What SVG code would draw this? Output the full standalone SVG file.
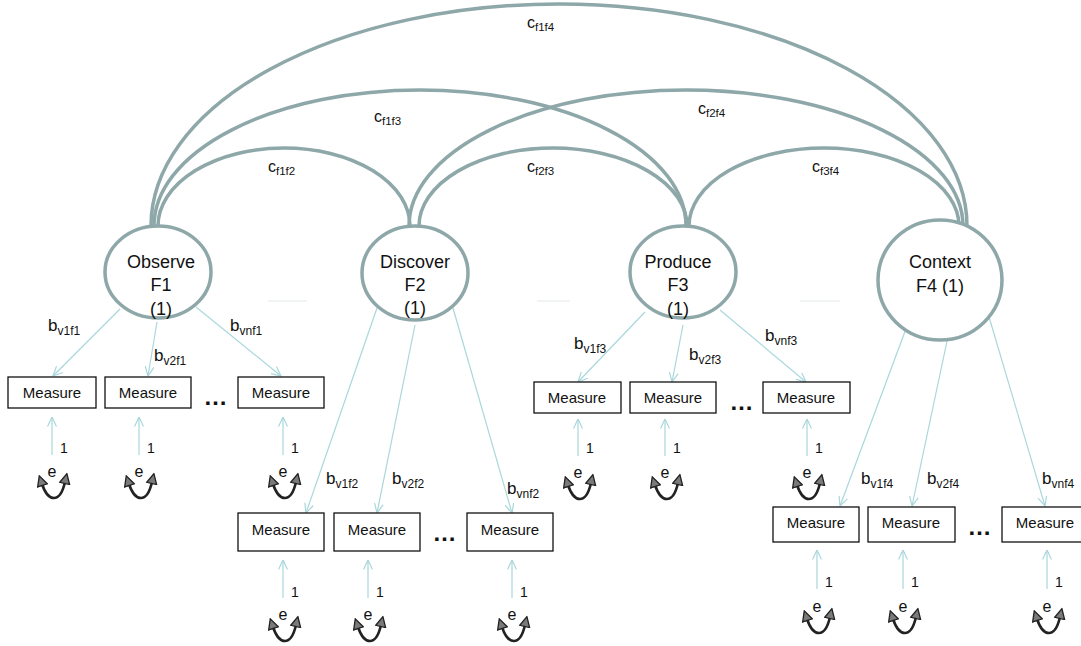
<svg xmlns="http://www.w3.org/2000/svg" width="1081" height="646" viewBox="0 0 1081 646">
<style>
text{font-family:"Liberation Sans",Arial,sans-serif;fill:#111}
.fac{fill:#fff;stroke:#8ea7a9;stroke-width:3.5}
.ft{font-size:18px;text-anchor:middle}
.box{fill:#fff;stroke:#111;stroke-width:1.3}
.mt{font-size:15px;text-anchor:middle}
.cov{fill:none;stroke:#8ea7a9;stroke-width:3.5}
.ld{fill:none;stroke:#a9d7dc;stroke-width:1.2;marker-end:url(#open)}
.bl{font-size:17px}
.bs{font-size:12px}
.cl{font-size:16px}
.cs{font-size:11.5px}
.one{font-size:14px}
.et{font-size:16px;text-anchor:middle}
.loop{fill:none;stroke:#222;stroke-width:2.6;marker-start:url(#tri);marker-end:url(#tri)}
.dots{font-size:24px;font-weight:bold;text-anchor:middle;letter-spacing:1px}
.faint{stroke:#edf1f1;stroke-width:1.5}
</style>
<defs>
<marker id="open" viewBox="0 0 10 10" refX="9.5" refY="5" markerWidth="10" markerHeight="10" markerUnits="userSpaceOnUse" orient="auto">
<path d="M0,0.5 L9.5,5 L0,9.5" fill="none" stroke="#a9d7dc" stroke-width="1.2"/>
</marker>
<marker id="tri" viewBox="0 0 10 10" refX="2" refY="5" markerWidth="12" markerHeight="12" markerUnits="userSpaceOnUse" orient="auto-start-reverse">
<path d="M0.8,0.8 L9.2,5 L0.8,9.2 z" fill="#7a7a7a" stroke="#222" stroke-width="1.1"/>
</marker>
</defs>
<rect width="1081" height="646" fill="#fff"/>
<g id="faint">
<line class="faint" x1="268" y1="301" x2="307" y2="301"/>
<line class="faint" x1="537" y1="301" x2="570" y2="301"/>
<line class="faint" x1="800" y1="301" x2="840" y2="301"/>
</g>
<g id="connectors">
<path class="cov" d="M151 226 A408 222 0 0 1 967 226"/>
<path class="cov" d="M154 226 A266 136 0 0 1 686 226"/>
<path class="cov" d="M409 226 A277 136 0 0 1 963 226"/>
<path class="cov" d="M158 226 A126 78 0 0 1 410 226"/>
<path class="cov" d="M419 226 A134 78 0 0 1 687 226"/>
<path class="cov" d="M689 226 A135 78 0 0 1 959 226"/>
<path class="ld" d="M120 309 L53 376"/>
<path class="ld" d="M157 322 L148 376"/>
<path class="ld" d="M196 307 L281 376"/>
<path class="ld" d="M377 308 L306 513"/>
<path class="ld" d="M415 325 L377 513"/>
<path class="ld" d="M453 308 L512 513"/>
<path class="ld" d="M645 312 L578 382"/>
<path class="ld" d="M683 325 L672 382"/>
<path class="ld" d="M720 310 L806 382"/>
<path class="ld" d="M913 310 L840 506"/>
<path class="ld" d="M950 327 L912 506"/>
<path class="ld" d="M987 310 L1045 506"/>
<path class="ld" d="M52 455 L52 417"/>
<path class="ld" d="M139 455 L139 417"/>
<path class="ld" d="M283 455 L283 417"/>
<path class="ld" d="M283 598 L283 560"/>
<path class="ld" d="M368 598 L368 560"/>
<path class="ld" d="M512 598 L512 560"/>
<path class="ld" d="M578 456 L578 419"/>
<path class="ld" d="M665 456 L665 419"/>
<path class="ld" d="M807 456 L807 419"/>
<path class="ld" d="M817 589 L817 550"/>
<path class="ld" d="M903 589 L903 550"/>
<path class="ld" d="M1047 589 L1047 550"/>
</g>
<g id="cov-labels">
<text class="cl" x="527" y="28">c<tspan class="cs" dy="3">f1f4</tspan></text>
<text class="cl" x="374" y="122">c<tspan class="cs" dy="3">f1f3</tspan></text>
<text class="cl" x="698" y="114">c<tspan class="cs" dy="3">f2f4</tspan></text>
<text class="cl" x="268" y="172">c<tspan class="cs" dy="3">f1f2</tspan></text>
<text class="cl" x="527" y="172">c<tspan class="cs" dy="3">f2f3</tspan></text>
<text class="cl" x="812" y="172">c<tspan class="cs" dy="3">f3f4</tspan></text>
</g>
<g id="load-labels">
<text class="bl" x="48" y="331">b<tspan class="bs" dy="4">v1f1</tspan></text>
<text class="bl" x="154" y="361">b<tspan class="bs" dy="4">v2f1</tspan></text>
<text class="bl" x="230" y="331">b<tspan class="bs" dy="4">vnf1</tspan></text>
<text class="bl" x="326" y="484">b<tspan class="bs" dy="4">v1f2</tspan></text>
<text class="bl" x="392" y="484">b<tspan class="bs" dy="4">v2f2</tspan></text>
<text class="bl" x="507" y="494">b<tspan class="bs" dy="4">vnf2</tspan></text>
<text class="bl" x="574" y="349">b<tspan class="bs" dy="4">v1f3</tspan></text>
<text class="bl" x="689" y="360">b<tspan class="bs" dy="4">v2f3</tspan></text>
<text class="bl" x="765" y="341">b<tspan class="bs" dy="4">vnf3</tspan></text>
<text class="bl" x="861" y="484">b<tspan class="bs" dy="4">v1f4</tspan></text>
<text class="bl" x="927" y="484">b<tspan class="bs" dy="4">v2f4</tspan></text>
<text class="bl" x="1042" y="484">b<tspan class="bs" dy="4">vnf4</tspan></text>
</g>
<g id="F1">
<ellipse class="fac" cx="158" cy="272" rx="53" ry="46"/>
<text class="ft" x="161" y="268">Observe</text>
<text class="ft" x="161" y="291">F1</text>
<text class="ft" x="161" y="315">(1)</text>
</g>
<g id="F2">
<ellipse class="fac" cx="415" cy="273" rx="53" ry="47"/>
<text class="ft" x="415" y="268">Discover</text>
<text class="ft" x="415" y="291">F2</text>
<text class="ft" x="415" y="314">(1)</text>
</g>
<g id="F3">
<ellipse class="fac" cx="683" cy="272" rx="53" ry="46"/>
<text class="ft" x="678" y="268">Produce</text>
<text class="ft" x="678" y="291">F3</text>
<text class="ft" x="678" y="315">(1)</text>
</g>
<g id="F4">
<ellipse class="fac" cx="940" cy="280" rx="62" ry="60"/>
<text class="ft" x="940" y="268">Context</text>
<text class="ft" x="940" y="292">F4 (1)</text>
</g>
<g id="measures-f1">
<g id="m1_1"><rect class="box" x="8" y="377" width="88" height="31"/><text class="mt" x="52" y="398">Measure</text></g>
<g id="m1_2"><rect class="box" x="105" y="377" width="86" height="31"/><text class="mt" x="148" y="398">Measure</text></g>
<g id="m1_n"><rect class="box" x="238" y="377" width="86" height="31"/><text class="mt" x="281" y="398">Measure</text></g>
<text class="dots" x="216" y="405">…</text>
</g>
<g id="measures-f2">
<g id="m2_1"><rect class="box" x="238" y="513" width="86" height="38"/><text class="mt" x="281" y="535">Measure</text></g>
<g id="m2_2"><rect class="box" x="334" y="513" width="86" height="38"/><text class="mt" x="377" y="535">Measure</text></g>
<g id="m2_n"><rect class="box" x="467" y="513" width="86" height="38"/><text class="mt" x="510" y="535">Measure</text></g>
<text class="dots" x="445" y="541">…</text>
</g>
<g id="measures-f3">
<g id="m3_1"><rect class="box" x="534" y="382" width="87" height="31"/><text class="mt" x="577" y="403">Measure</text></g>
<g id="m3_2"><rect class="box" x="630" y="382" width="86" height="31"/><text class="mt" x="673" y="403">Measure</text></g>
<g id="m3_n"><rect class="box" x="763" y="382" width="87" height="31"/><text class="mt" x="806" y="403">Measure</text></g>
<text class="dots" x="742" y="410">…</text>
</g>
<g id="measures-f4">
<g id="m4_1"><rect class="box" x="773" y="507" width="86" height="35"/><text class="mt" x="816" y="528">Measure</text></g>
<g id="m4_2"><rect class="box" x="868" y="507" width="87" height="35"/><text class="mt" x="911" y="528">Measure</text></g>
<g id="m4_n"><rect class="box" x="1002" y="507" width="86" height="35"/><text class="mt" x="1045" y="528">Measure</text></g>
<text class="dots" x="980" y="535">…</text>
</g>
<g id="errors">
<g id="e1_1"><text class="one" x="60" y="453">1</text><text class="et" x="52" y="477">e</text><path class="loop" d="M42 484 C48 502,60 504,65 482"/></g>
<g id="e1_2"><text class="one" x="147" y="453">1</text><text class="et" x="139" y="477">e</text><path class="loop" d="M129 484 C135 502,147 504,152 482"/></g>
<g id="e1_n"><text class="one" x="291" y="453">1</text><text class="et" x="283" y="477">e</text><path class="loop" d="M273 484 C279 502,291 504,296 482"/></g>
<g id="e2_1"><text class="one" x="291" y="597">1</text><text class="et" x="283" y="620">e</text><path class="loop" d="M273 627 C279 645,291 647,296 625"/></g>
<g id="e2_2"><text class="one" x="376" y="597">1</text><text class="et" x="368" y="620">e</text><path class="loop" d="M358 627 C364 645,376 647,381 625"/></g>
<g id="e2_n"><text class="one" x="520" y="597">1</text><text class="et" x="512" y="620">e</text><path class="loop" d="M502 627 C508 645,520 647,525 625"/></g>
<g id="e3_1"><text class="one" x="586" y="453">1</text><text class="et" x="578" y="478">e</text><path class="loop" d="M568 485 C574 503,586 505,591 483"/></g>
<g id="e3_2"><text class="one" x="673" y="453">1</text><text class="et" x="665" y="478">e</text><path class="loop" d="M655 485 C661 503,673 505,678 483"/></g>
<g id="e3_n"><text class="one" x="815" y="453">1</text><text class="et" x="807" y="478">e</text><path class="loop" d="M797 485 C803 503,815 505,820 483"/></g>
<g id="e4_1"><text class="one" x="825" y="587">1</text><text class="et" x="817" y="612">e</text><path class="loop" d="M807 619 C813 637,825 639,830 617"/></g>
<g id="e4_2"><text class="one" x="911" y="587">1</text><text class="et" x="903" y="612">e</text><path class="loop" d="M893 619 C899 637,911 639,916 617"/></g>
<g id="e4_n"><text class="one" x="1055" y="587">1</text><text class="et" x="1047" y="612">e</text><path class="loop" d="M1037 619 C1043 637,1055 639,1060 617"/></g>
</g>
</svg>
